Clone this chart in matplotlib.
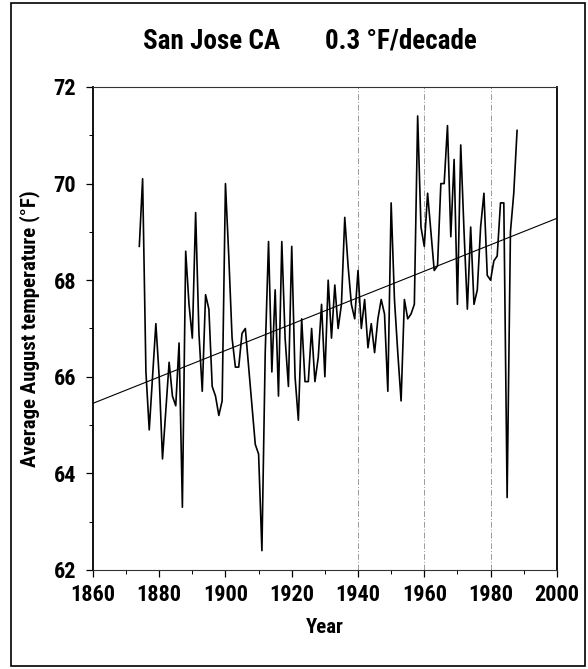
import matplotlib
matplotlib.use("Agg")
import matplotlib.pyplot as plt
from matplotlib import font_manager
from matplotlib.ticker import MultipleLocator
from matplotlib.patches import Rectangle

# August mean temperature, San Jose CA
years = list(range(1874, 1989))
temps = [
    68.7, 70.1, 66.1, 64.9, 66.0, 67.1,
    66.0, 64.3, 65.3, 66.3, 65.6, 65.4, 66.7, 63.3, 68.6, 67.5,
    66.8, 69.4, 66.9, 65.7, 67.7, 67.4, 65.8, 65.6, 65.2, 65.5,
    70.0, 68.5, 66.8, 66.2, 66.2, 66.9, 67.0, 66.2, 65.4, 64.6,
    64.4, 62.4, 66.5, 68.8, 66.1, 67.8, 65.6, 68.8, 66.8, 65.8,
    68.7, 66.0, 65.1, 67.2, 65.9, 65.9, 67.0, 65.9, 66.4, 67.5,
    66.0, 68.0, 66.8, 67.9, 67.0, 67.5, 69.3, 68.3, 67.5, 67.2,
    68.2, 67.0, 67.6, 66.6, 67.1, 66.5, 67.2, 67.6, 67.3, 65.7,
    69.6, 67.6, 66.5, 65.5, 67.6, 67.2, 67.3, 67.5, 71.4, 69.1,
    68.7, 69.8, 69.0, 68.2, 68.3, 70.0, 70.0, 71.2, 68.9, 70.5,
    67.5, 70.8, 69.0, 67.4, 69.1, 67.5, 67.8, 69.1, 69.8, 68.1,
    68.0, 68.4, 68.5, 69.6, 69.6, 63.5, 69.0, 69.8, 71.1,
]

# linear trend as drawn (about 0.3 F per decade)
trend_years = [1860, 2000]
trend_temps = [65.45, 69.28]

grid_years = [1940, 1960, 1980]

title_place = "San Jose CA"
title_rate = "0.3 °F/decade"

# the original uses a narrow bold face; take a condensed one if there is one
installed = {f.name for f in font_manager.fontManager.ttflist}
narrow = ['Noto Sans Condensed', 'Noto Sans SemiCondensed', 'DejaVu Sans Condensed',
          'Liberation Sans Narrow', 'Roboto Condensed', 'Open Sans Condensed']
family = next((n for n in narrow if n in installed), 'Liberation Sans')
plt.rcParams['font.family'] = [family, 'DejaVu Sans']
plt.rcParams['font.weight'] = 'bold'
if family == 'Liberation Sans':
    plt.rcParams['font.stretch'] = 'condensed'

fig = plt.figure(figsize=(5.88, 6.69), dpi=100)
ax = fig.add_axes([0.158, 0.148, 0.789, 0.722])

for gx in grid_years:
    ax.axvline(gx, color='#9a9a9a', lw=0.7, linestyle=(0, (6, 2, 1, 2)), zorder=1)

ax.plot(trend_years, trend_temps, color='black', lw=0.8, zorder=2)
ax.plot(years, temps, color='black', lw=1.2, zorder=3)

ax.set_xlim(1860, 2000)
ax.set_ylim(62, 72)
ax.xaxis.set_major_locator(MultipleLocator(20))
ax.xaxis.set_minor_locator(MultipleLocator(10))
ax.yaxis.set_major_locator(MultipleLocator(2))
ax.yaxis.set_minor_locator(MultipleLocator(1))

ax.tick_params(axis='both', which='major', direction='out', length=5, width=0.9,
               labelsize=16)
ax.tick_params(axis='x', which='major', pad=5)
ax.tick_params(axis='y', which='major', pad=7)
ax.tick_params(axis='both', which='minor', direction='out', length=3, width=0.7)

for side in ['left', 'right']:
    ax.spines[side].set_linewidth(1.3)
for side in ['top', 'bottom']:
    ax.spines[side].set_linewidth(0.8)
    ax.spines[side].set_linestyle((0, (5, 1)))
    ax.spines[side].set_color('#333333')

ax.set_xlabel("Year", fontsize=15, fontweight='bold', labelpad=9)
ax.set_ylabel("Average August temperature (°F)", fontsize=15, fontweight='bold', labelpad=10)

fig.text(0.243, 0.927, title_place, fontsize=19.5, fontweight='bold', ha='left', va='baseline')
fig.text(0.552, 0.927, title_rate, fontsize=19.5, fontweight='bold', ha='left', va='baseline')

# outer box around the whole figure
fig.patches.append(Rectangle((11 / 588, 3 / 669), 574 / 588, 663 / 669,
                             transform=fig.transFigure, fill=False,
                             edgecolor='black', lw=1.2))

fig.savefig("out.png", dpi=100)
